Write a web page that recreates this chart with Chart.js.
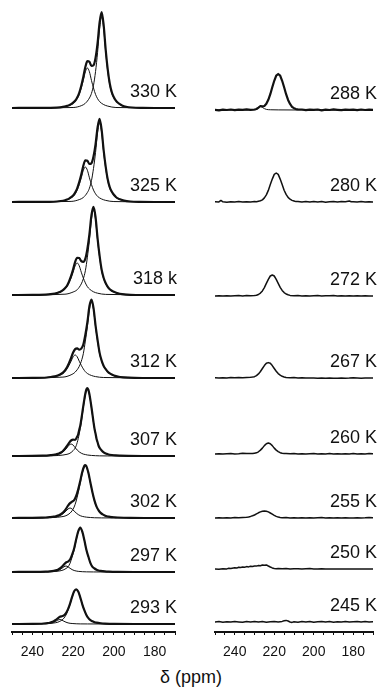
<!DOCTYPE html>
<html><head><meta charset="utf-8">
<script src="https://cdn.jsdelivr.net/npm/chart.js@4.4.1/dist/chart.umd.min.js"></script>
<style>
html,body{margin:0;padding:0;background:#fff;}
body{width:382px;height:691px;position:relative;overflow:hidden;}
#cl{position:absolute;left:0;top:0;}
#cr{position:absolute;left:190px;top:0;}
#xt{position:absolute;left:0;top:666px;width:382px;text-align:center;font:18px "Liberation Sans",Arial,sans-serif;color:#111;line-height:22px;}
</style></head><body>
<canvas id="cl" width="190" height="665"></canvas>
<canvas id="cr" width="192" height="665"></canvas>
<div id="xt">δ (ppm)</div>
<script>
// ---------- axis ----------
const axisMin = 170, axisMax = 250;
const tickValues = [240, 220, 200, 180];
const axisTitle = 'δ (ppm)';

// ---------- labels ----------
const leftLabels = ['330 K', '325 K', '318 k', '312 K', '307 K', '302 K', '297 K', '293 K'];
const rightLabels = ['288 K', '280 K', '272 K', '267 K', '260 K', '255 K', '250 K', '245 K'];

// ---------- left panel spectra: [ppm, intensity] ----------
// t = measured/fit sum (thick), a = main component, b = minor component (thin)
const t330 = [[250,0],[240,0.1],[232,0.2],[228,0.4],[225,1.1],[223,2.1],[222,2.7],[221,3.8],[220,5.4],[219,7.2],[218,10.4],[217,15.2],[216,22.3],[215,31],[214,40.9],[213,46.8],[212,46.2],[211,42.2],[210,42.8],[209,50],[208,64.8],[207,85.6],[206,95.8],[205,82.6],[204,57.9],[203,38.3],[202,24.2],[201,15.6],[200,10.8],[199,7.4],[198,5.2],[197,3.8],[196,2.6],[194,1.3],[191,0.5],[186,0.1],[180,0],[170,0]];
const a330 = [[250,0],[220,0.5],[216,2.3],[214,4.7],[212,10],[211,14.6],[210,22.8],[209,36.4],[208,55.5],[207,79.2],[206,91],[205,79.2],[204,55.5],[203,36.4],[202,22.8],[201,14.6],[200,10],[198,4.7],[196,2.3],[192,0.5],[170,0]];
const b330 = [[250,0],[227,0.5],[223,1.9],[221,3.4],[219,6.4],[218,9.3],[217,13.6],[216,20],[215,27.6],[214,36.2],[213,40],[212,36.2],[211,27.6],[210,20],[209,13.6],[208,9.3],[207,6.4],[205,3.4],[203,1.9],[199,0.5],[170,0]];

const t325 = [[250,0],[240,0.1],[232,0.2],[228,0.5],[226,1.0],[224,1.8],[223,2.4],[222,3.4],[221,4.8],[220,6.5],[219,9.4],[218,13.7],[217,19.9],[216,27.4],[215,36.2],[214,41.6],[213,41.2],[212,38],[211,38.8],[210,45.5],[209,57.6],[208,74.7],[207,83.2],[206,72.1],[205,51.5],[204,35.2],[203,22.5],[202,14.7],[201,10.2],[200,7.2],[199,5.0],[198,3.6],[197,2.7],[195,1.4],[192,0.5],[187,0.1],[180,0],[170,0]];
const a325 = [[250,0],[221,0.6],[217,2.4],[215,4.5],[213,9.5],[212,13.8],[211,21.3],[210,33.6],[209,49.4],[208,69.1],[207,79],[206,69.1],[205,49.4],[204,33.6],[203,21.3],[202,13.8],[201,9.5],[199,4.5],[197,2.4],[193,0.6],[170,0]];
const b325 = [[250,0],[228,0.45],[224,1.6],[222,3.0],[220,5.6],[219,8.2],[218,11.9],[217,17.5],[216,24.2],[215,31.7],[214,35],[213,31.7],[212,24.2],[211,17.5],[210,11.9],[209,8.2],[208,5.6],[206,3.0],[204,1.6],[200,0.45],[170,0]];

const t318 = [[250,0],[240,0.1],[232,0.6],[230,1.1],[228,2.0],[227,2.7],[226,3.6],[225,4.8],[224,6.8],[223,9.3],[222,13.6],[221,19.1],[220,25.8],[219,33.1],[218,37.2],[217,36.9],[216,33.9],[215,33.2],[214,36.3],[213,46.0],[212,60.8],[211,79.9],[210,88.2],[209,78.0],[208,56.6],[207,39.1],[206,25.2],[205,17],[204,11.8],[203,8.2],[202,5.7],[201,4.3],[200,3.3],[198,1.7],[196,0.9],[192,0.2],[185,0],[170,0]];
const a318 = [[250,0],[224,0.8],[220,3.0],[218,5.3],[216,11.1],[215,16.2],[214,24.2],[213,37.8],[212,54.8],[211,75.6],[210,85],[209,75.6],[208,54.8],[207,37.8],[206,24.2],[205,16.2],[204,11.1],[202,5.3],[200,3.0],[196,0.8],[170,0]];
const b318 = [[250,0],[232,0.6],[228,1.8],[226,3.2],[224,6.0],[223,8.3],[222,12.1],[221,17],[220,22.8],[219,29.2],[218,32],[217,29.2],[216,22.8],[215,17],[214,12.1],[213,8.3],[212,6.0],[210,3.2],[208,1.8],[204,0.6],[170,0]];

const t312 = [[250,0],[240,0.1],[233,0.5],[231,1.0],[229,1.7],[228,2.2],[227,3.0],[226,4.0],[225,5.4],[224,7.6],[223,10.8],[222,15.1],[221,20],[220,25.5],[219,28.9],[218,29.6],[217,28.4],[216,29.4],[215,33.4],[214,43.2],[213,55.8],[212,71.7],[211,78.5],[210,70.2],[209,52.7],[208,38],[207,25.1],[206,17.4],[205,12.1],[204,8.9],[203,6.3],[202,4.6],[201,3.5],[199,1.9],[197,1.0],[193,0.3],[186,0],[170,0]];
const a312 = [[250,0],[225,0.9],[221,3.2],[219,5.9],[217,11.6],[216,16.7],[215,24.3],[214,36.9],[213,51.3],[212,68.4],[211,76],[210,68.4],[209,51.3],[208,36.9],[207,24.3],[206,16.7],[205,11.6],[203,5.9],[201,3.2],[197,0.9],[170,0]];
const b312 = [[250,0],[233,0.5],[229,1.4],[227,2.5],[225,4.5],[224,6.3],[223,9.1],[222,12.7],[221,16.8],[220,21.2],[219,23],[218,21.2],[217,16.8],[216,12.7],[215,9.1],[214,6.3],[213,4.5],[211,2.5],[209,1.4],[205,0.5],[170,0]];

const t307 = [[250,0],[240,0.1],[235,0.3],[233,0.45],[231,0.8],[229,1.35],[228,1.9],[227,2.45],[226,3.55],[225,5.05],[224,7.3],[223,10],[222,13.2],[221,15.5],[220,16.3],[219,16.2],[218,19.4],[217.5,21.8],[217,26.2],[216.5,30.2],[216,36.3],[215.5,43.2],[215,50.1],[214.5,56.6],[214,62.45],[213.5,66.5],[213,68],[212.5,66.2],[212,61.8],[211.5,55.6],[211,48.75],[210.5,41.4],[210,33.95],[209.5,27.2],[209,22.45],[208.5,17.1],[208,13.7],[207.5,10.25],[207,8.1],[206,5.6],[205,3.65],[204,2.45],[203,1.8],[201,1.0],[199,0.55],[197,0.35],[193,0.15],[186,0],[170,0]];
const a307 = [[250,0],[233,0.15],[229,0.35],[227,0.55],[225,0.95],[223,1.7],[222,2.3],[221,3.5],[220,5.4],[219,7.9],[218,13.4],[217,22.1],[216,33.5],[215,48.2],[214,61],[213.5,65.3],[213,67],[212.5,65.3],[212,61],[211,48.2],[210,33.5],[209,22.1],[208,13.4],[207,7.9],[206,5.4],[205,3.5],[204,2.3],[203,1.7],[201,0.95],[197,0.35],[193,0.15],[170,0]];
const b307 = [[250,0],[237,0.08],[235,0.15],[233,0.3],[231,0.55],[229,1.0],[228,1.45],[227,1.9],[226,2.8],[225,4.1],[224,6],[223,8.3],[222,10.9],[221,12],[220,10.9],[219,8.3],[218,6],[217,4.1],[216,2.8],[215,1.9],[214,1.45],[213,1.0],[211,0.55],[209,0.3],[207,0.15],[203,0.05],[170,0]];

const t302 = [[250,0],[240,0.15],[235.5,0.35],[233.5,0.5],[231.5,0.85],[229.5,1.35],[228.5,1.8],[227.5,2.4],[226.5,3.3],[225.5,4.7],[224.5,6.6],[223.5,9.2],[222.5,12.4],[221.5,14.9],[220.5,16.3],[219.5,17.9],[218.5,22],[217.5,28.6],[216.5,37.1],[215.5,46.1],[214.5,52.2],[214,53],[213.5,51.9],[212.5,45.2],[211.5,35.3],[210.5,25.6],[209.5,17.4],[208.5,11.3],[207.5,7.6],[206.5,5.1],[205.5,3.6],[204.5,2.5],[203.5,1.7],[202,1.2],[200,0.75],[198,0.5],[192,0.1],[185,0],[170,0]];
const a302 = [[250,0],[235.5,0.2],[229.5,0.5],[227.5,0.8],[225.5,1.3],[223.5,2.3],[221.5,4.9],[220.5,7.3],[219.5,11],[218.5,17],[217.5,25.2],[216.5,34.8],[215.5,44.5],[214.5,51],[214,52],[213.5,51],[212.5,44.5],[211.5,34.8],[210.5,25.2],[209.5,17],[208.5,11],[207.5,7.3],[206.5,4.9],[204.5,2.3],[202,1.1],[198,0.45],[192,0.1],[170,0]];
const b302 = [[250,0],[235.5,0.15],[233.5,0.25],[231.5,0.5],[229.5,0.85],[228.5,1.2],[227.5,1.6],[226.5,2.3],[225.5,3.4],[224.5,5],[223.5,6.9],[222.5,9],[221.5,10],[220.5,9],[219.5,6.9],[218.5,5],[217.5,3.4],[216.5,2.3],[215.5,1.6],[214.5,1.2],[213.5,0.85],[211.5,0.5],[209.5,0.25],[206,0.1],[170,0]];

const t297 = [[250,0],[240,0.1],[236,0.2],[233.5,0.35],[231.5,0.6],[229.5,1.1],[228.5,1.6],[227.5,2.35],[226.5,3.5],[225.5,5.2],[224.5,7.5],[223.5,9.5],[222.5,10.4],[221.5,12.5],[220.5,17.4],[219.5,23.5],[218.5,32.7],[217.5,40.6],[216.5,44.4],[215.5,40.3],[214.5,32],[213.5,22.2],[212.5,15.2],[211.5,8.9],[210.5,5.2],[209.5,3.5],[208.5,2.3],[207.5,1.5],[206.5,1.1],[204.5,0.6],[202.5,0.35],[198,0.1],[190,0],[170,0]];
const a297 = [[250,0],[236.5,0.1],[230.5,0.35],[228.5,0.6],[226.5,1.1],[224.5,2.3],[223.5,3.5],[222.5,5.2],[221.5,8.8],[220.5,15],[219.5,22],[218.5,31.7],[217.5,40],[216.5,44],[215.5,40],[214.5,31.7],[213.5,22],[212.5,15],[211.5,8.8],[210.5,5.2],[209.5,3.5],[208.5,2.3],[206.5,1.1],[202.5,0.35],[196.5,0.1],[170,0]];
const b297 = [[250,0],[235,0.05],[233.5,0.15],[231.5,0.3],[229.5,0.65],[228.5,1.0],[227.5,1.5],[226.5,2.4],[225.5,3.7],[224.5,5.2],[223.5,6],[222.5,5.2],[221.5,3.7],[220.5,2.4],[219.5,1.5],[218.5,1.0],[217.5,0.65],[215.5,0.3],[213.5,0.15],[210,0.05],[170,0]];

const t293 = [[250,0],[240,0.1],[236.5,0.25],[234.5,0.5],[232.5,0.95],[231.5,1.3],[230.5,1.85],[229.5,2.8],[228.5,4.05],[227.5,5.7],[226.5,7.2],[225.5,7.8],[224.5,8.65],[223.5,10.8],[222.5,14.9],[221.5,20.4],[220.5,27.1],[219.5,32.75],[218.5,34.7],[217.5,32.55],[216.5,26.7],[215.5,19.7],[214.5,13.8],[213.5,9],[212.5,5.9],[211.5,3.9],[210.5,2.7],[209.5,1.8],[208.5,1.3],[206.5,0.75],[204.5,0.45],[200,0.1],[190,0],[170,0]];
const a293 = [[250,0],[236.5,0.15],[232.5,0.45],[230.5,0.75],[228.5,1.3],[227.5,1.8],[226.5,2.7],[225.5,3.9],[224.5,5.9],[223.5,9],[222.5,13.8],[221.5,19.7],[220.5,26.6],[219.5,32.4],[218.5,34.5],[217.5,32.4],[216.5,26.6],[215.5,19.7],[214.5,13.8],[213.5,9],[212.5,5.9],[211.5,3.9],[210.5,2.7],[208.5,1.3],[206.5,0.75],[204.5,0.45],[200,0.15],[170,0]];
const b293 = [[250,0],[238,0.05],[236.5,0.1],[234.5,0.22],[232.5,0.5],[231.5,0.7],[230.5,1.1],[229.5,1.8],[228.5,2.75],[227.5,3.9],[226.5,4.5],[225.5,3.9],[224.5,2.75],[223.5,1.8],[222.5,1.1],[221.5,0.7],[220.5,0.5],[218.5,0.22],[216.5,0.1],[213,0.05],[170,0]];

// ---------- right panel spectra ----------
const r288 = [[250,0.2],[248,-0.3],[246,0.4],[244,0],[242,0.5],[240,-0.2],[238,0.3],[236,0.1],[234,0.6],[232,0.2],[230,0.5],[229,1.0],[228,2.4],[227,4.0],[226,3.6],[225,4.0],[224,6.2],[223,10.2],[222,15.8],[221,22.7],[220,29.2],[219,34.4],[218,36],[217,34.4],[216,29.2],[215,22.7],[214,15.8],[213,10.1],[212,6.1],[211,3.2],[210,1.8],[209,0.9],[208,0.6],[206,0.5],[204,-0.2],[202,0.4],[200,0.1],[198,0.5],[196,-0.3],[194,0.3],[192,0],[190,0.6],[188,0.2],[186,-0.2],[184,0.4],[182,0.1],[180,0.3],[178,-0.2],[176,0.5],[174,0],[172,0.3],[170,0.1]];
const c288 = [[250,0],[232,0.05],[230,0.2],[229,0.6],[228,2.2],[227,3.4],[226,2.6],[225,1.4],[224,0.6],[222,0.25],[218,0.1],[210,0.03],[170,0]];
const r280 = [[250,0.3],[248,0.1],[247,1.6],[246,0.2],[244,-0.2],[242,0.3],[240,0],[238,0.4],[236,-0.1],[234,0.3],[232,0.1],[230,0.4],[229,0.2],[228,0.7],[227,1.2],[226,2.1],[225,4.1],[224,7.1],[223,11.6],[222,17.4],[221,22.9],[220,27.6],[219,29],[218,27.6],[217,22.9],[216,17.4],[215,11.8],[214,7.6],[213,4.6],[212,2.8],[211,1.6],[210,1.0],[209,0.4],[208,0.6],[206,-0.1],[204,0.4],[202,0],[200,0.5],[198,0.1],[196,0.4],[194,-0.2],[192,0.3],[190,0.5],[188,0],[186,0.4],[184,0.2],[182,1.0],[181,0.2],[180,0.3],[178,-0.1],[176,0.4],[174,0.1],[172,0.3],[170,0]];
const r272 = [[250,0],[248,0.2],[246,-0.1],[244,0.3],[242,0],[240,0.2],[238,0.4],[236,0.1],[234,0.5],[232,0.3],[230,0.5],[229,0.8],[228,1.5],[227,2.9],[226,5.1],[225,8.4],[224,12.6],[223,16.6],[222,20],[221,21],[220,20],[219,16.6],[218,12.6],[217,8.6],[216,5.6],[215,3.4],[214,2.0],[213,1.2],[212,0.6],[210,0.2],[208,0.5],[206,0.1],[204,0.3],[202,0],[200,0.2],[198,0.4],[196,0.1],[194,0.3],[192,0.2],[190,0.4],[188,0.1],[186,0.3],[184,0],[182,0.2],[180,0.1],[178,0.3],[176,0],[174,0.2],[172,0.1],[170,0]];
const r267 = [[250,0.2],[248,0],[246,0.3],[244,0.1],[242,0.4],[240,0.2],[238,0.5],[236,0.3],[234,0.6],[232,0.7],[231,0.9],[230,1.3],[229,2.4],[228,4.1],[227,6.5],[226,9.5],[225,12.4],[224,14.7],[223,15.4],[222,14.7],[221,12.4],[220,9.5],[219,6.7],[218,4.4],[217,2.8],[216,1.7],[215,1.0],[214,0.5],[212,0.2],[210,0.4],[208,0],[206,0.2],[204,-0.1],[202,0.1],[200,0],[198,-0.2],[196,0],[194,-0.3],[192,-0.1],[190,-0.3],[188,-0.2],[186,0],[184,-0.3],[182,-0.1],[180,0.2],[178,0],[176,-0.2],[174,0.1],[172,-0.1],[170,0]];
const r260 = [[250,0],[248,0.3],[246,-0.1],[244,0.2],[242,0.5],[240,0.1],[238,0.3],[236,0.7],[234,0.4],[232,0.6],[231,0.4],[230,0.8],[229,1.2],[228,2.2],[227,3.9],[226,5.9],[225,8.4],[224,10.3],[223,11],[222,10.3],[221,8.4],[220,5.9],[219,3.9],[218,2.4],[217,1.3],[216,0.7],[215,0.4],[214,0.6],[212,0.2],[210,0.4],[208,0],[206,0.3],[204,-0.1],[202,0.2],[200,0.4],[198,0],[196,0.3],[194,0.1],[192,0.4],[190,-0.1],[188,0.2],[186,0],[184,0.3],[182,0.1],[180,0.5],[178,-0.1],[176,0.3],[174,0.1],[172,0.4],[170,0.2]];
const r255 = [[250,0],[248,0.2],[246,-0.1],[244,0.3],[242,0.1],[240,0.4],[238,0.2],[236,0.6],[234,0.8],[233,1.1],[232,1.6],[231,2.2],[230,3.0],[229,4.1],[228,5.2],[227,6.1],[226,6.8],[225,7],[224,6.8],[223,6.1],[222,5.0],[221,3.8],[220,2.6],[219,1.6],[218,0.9],[217,0.5],[216,0.2],[214,0.4],[212,0],[210,0.3],[208,-0.1],[206,0.2],[204,0],[202,0.3],[200,-0.1],[198,0.2],[196,0.4],[194,0],[192,0.2],[190,-0.1],[188,0.3],[186,0.1],[184,0.2],[182,-0.1],[180,0.1],[178,0.3],[176,0],[174,0.2],[172,0.5],[170,0.2]];
const r250 = [[250,0],[248,-0.2],[246,0.3],[244,0.1],[243,0.8],[242,0.5],[240,1.2],[239,0.9],[238,1.8],[237,1.5],[236,2.0],[235,1.8],[234,2.4],[233,2.1],[232,2.8],[231,2.6],[230,3.1],[229,2.9],[228,3.5],[227,3.3],[226,4.0],[225,3.7],[224,4.1],[223,3.0],[222,2.0],[221,1.1],[220,0.6],[219,0.3],[218,0.6],[216,0.2],[214,0.4],[212,0],[210,0.2],[208,0.3],[206,0],[204,0.2],[202,0.4],[200,0.1],[198,0],[196,0.2],[194,0],[192,0.1],[190,-0.1],[188,0.1],[186,0],[184,0.1],[182,0],[180,0],[178,0.1],[176,0],[174,0],[172,0.1],[170,0]];
const r245 = [[250,0],[248,0.4],[246,-0.2],[244,0.3],[242,0],[240,0.5],[238,0.1],[236,-0.3],[234,0.4],[232,0.1],[230,0.6],[228,0],[226,0.4],[224,-0.2],[222,0.3],[220,0.5],[218,0.1],[216,0.6],[215,1.2],[214,1.6],[213,1.0],[212,0],[211,-0.4],[210,0.3],[208,-0.2],[206,0.4],[204,0],[202,0.5],[200,-0.3],[198,0.3],[196,0.6],[194,0],[192,0.4],[190,-0.2],[188,0.3],[186,0.1],[184,0.5],[182,-0.1],[180,0.3],[178,0.6],[176,0],[174,0.4],[172,0.1],[170,0.3]];

// ---------- layout (stack baselines in plot units, 1 unit ≈ 1 px) ----------
const Y_TOP = 632;
const LEFT_STACK = [524, 430, 337, 254, 176, 114, 60, 8];
const RIGHT_STACK = [522, 430, 336, 254, 178, 114, 63, 10];
const INK = '#111';
const FONT = '"Liberation Sans", Arial, Helvetica, sans-serif';

const leftSpectra = [
  {total: t330, comps: [a330, b330]}, {total: t325, comps: [a325, b325]},
  {total: t318, comps: [a318, b318]}, {total: t312, comps: [a312, b312]},
  {total: t307, comps: [a307, b307]}, {total: t302, comps: [a302, b302]},
  {total: t297, comps: [a297, b297]}, {total: t293, comps: [a293, b293]}
];
const rightSpectra = [
  {total: r288, comps: [c288], w: 2.2}, {total: r280, comps: [], w: 1.5},
  {total: r272, comps: [], w: 1.5}, {total: r267, comps: [], w: 1.5},
  {total: r260, comps: [], w: 1.5}, {total: r255, comps: [], w: 1.5},
  {total: r250, comps: [], w: 1.5}, {total: r245, comps: [], w: 1.5}
];

function ds(points, off, width, smooth) {
  const d = {
    data: points.map(p => ({x: p[0], y: p[1] + off})),
    borderColor: INK, borderWidth: width, pointRadius: 0, fill: false,
    borderJoinStyle: 'round', borderCapStyle: 'round'
  };
  if (smooth) d.cubicInterpolationMode = 'monotone'; else d.tension = 0;
  return d;
}

const labelPlugin = {
  id: 'specLabels',
  afterDatasetsDraw(chart, args, opts) {
    const {ctx, chartArea} = chart;
    const y = chart.scales.y;
    ctx.save();
    ctx.font = '18px ' + FONT;
    ctx.fillStyle = INK;
    ctx.textAlign = 'right';
    ctx.textBaseline = 'middle';
    opts.labels.forEach((t, i) => {
      ctx.fillText(t, chartArea.right + opts.dx, y.getPixelForValue(opts.stack[i]) - opts.rise);
    });
    ctx.restore();
  }
};

function makeChart(id, spectra, stack, labels, padL, padR, dx, smoothTotals) {
  const datasets = [];
  spectra.forEach((s, i) => {
    s.comps.forEach(c => datasets.push(ds(c, stack[i], 1, true)));
    datasets.push(ds(s.total, stack[i], s.w || 2.2, smoothTotals));
  });
  return new Chart(document.getElementById(id), {
    type: 'line',
    data: {datasets},
    options: {
      responsive: false, animation: false, devicePixelRatio: 1,
      layout: {padding: {left: padL, right: padR, top: 0, bottom: 0}},
      plugins: {
        legend: {display: false}, tooltip: {enabled: false},
        specLabels: {labels, stack, dx, rise: 16}
      },
      scales: {
        x: {
          type: 'linear', reverse: true, min: axisMin, max: axisMax,
          afterFit(s) { s.height = 33; },
          border: {display: true, color: INK, width: 2},
          grid: {drawOnChartArea: false, drawTicks: true, tickLength: 3, color: INK, lineWidth: 1},
          ticks: {
            stepSize: 5, autoSkip: false, maxRotation: 0, minRotation: 0, padding: 9,
            color: INK, font: {family: FONT, size: 14},
            callback: v => tickValues.includes(v) ? String(v) : ''
          }
        },
        y: {display: false, min: 0, max: Y_TOP}
      }
    },
    plugins: [labelPlugin]
  });
}

makeChart('cl', leftSpectra, LEFT_STACK, leftLabels, 12, 15, 2, true);
makeChart('cr', rightSpectra, RIGHT_STACK, rightLabels, 25, 7, 4, false);
document.getElementById('xt').textContent = axisTitle;
</script></body></html>
